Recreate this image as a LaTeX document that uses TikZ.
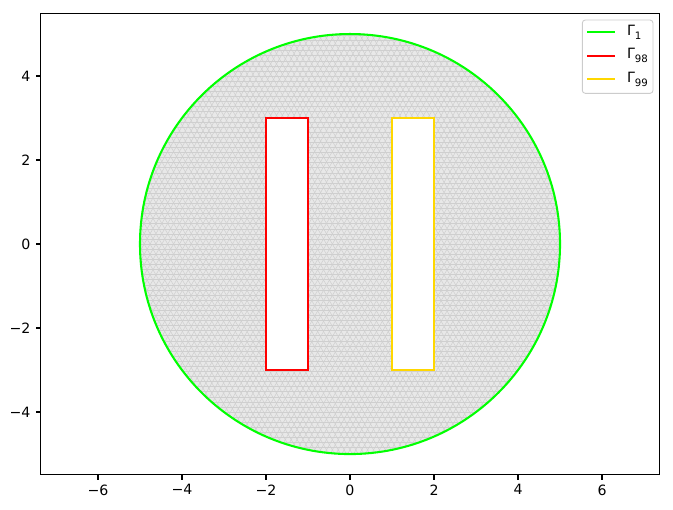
\documentclass[tikz,border=0pt]{standalone}
\usepackage{fontspec}
\setmainfont{DejaVu Sans}
\definecolor{lime}{HTML}{00FF00}
\definecolor{gold}{HTML}{FFD700}
\definecolor{legendedge}{HTML}{CCCCCC}
\newcommand{\sub}[1]{\raisebox{-0.3em}{\scalebox{0.72}{#1}}}
\tikzset{
  spine/.style={line width=0.75pt},
  tick/.style={line width=0.75pt},
  ticklabel/.style={font=\fontsize{9.6}{11}\selectfont, inner sep=0pt},
  bnd/.style={line width=1.4pt},
  meshline/.style={black!19, line width=0.35pt},
}

\begin{document}
\begin{tikzpicture}
  \useasboundingbox (-8.333,-6.310) rectangle (7.690,5.810);

  % mesh of the domain
  \begin{scope}[even odd rule]
    \clip (0,0) circle (5) (-2,-3) rectangle (-1,3) (1,-3) rectangle (2,3);
    \fill[black!9] (-5.1,-5.1) rectangle (5.1,5.1);
    \foreach \k in {-45,...,45} {
      \draw[meshline] (-5.1,\k*0.1212) -- (5.1,\k*0.1212);
    }
    \foreach \k in {-66,...,66} {
      \draw[meshline] (\k*0.14-3.2,-5.6) -- (\k*0.14+3.2,5.6);
      \draw[meshline] (\k*0.14+3.2,-5.6) -- (\k*0.14-3.2,5.6);
    }
  \end{scope}

  % boundaries
  \draw[bnd, lime] (0,0) circle (5);
  \draw[bnd, red] (-2,-3) rectangle (-1,3);
  \draw[bnd, gold] (1,-3) rectangle (2,3);

  % axes
  \draw[spine] (-7.369,-5.491) rectangle (7.376,5.488);
  \foreach \x in {-6,-4,...,6} {
    \pgfmathtruncatemacro\ax{abs(\x)}
    \draw[tick] (\x,-5.491) -- (\x,-5.607);
    \node[ticklabel, anchor=north] (xl\x) at (\x,-5.72) {\ifnum\x<0 −\fi\ax};
  }
  \foreach \y in {-4,-2,...,4} {
    \pgfmathtruncatemacro\ay{abs(\y)}
    \draw[tick] (-7.369,\y) -- (-7.485,\y);
    \node[ticklabel, anchor=east] (yl\y) at (-7.60,\y) {\ifnum\y<0 −\fi\ay};
  }

  % legend
  \draw[legendedge, fill=white, fill opacity=0.8, rounded corners=2pt, line width=0.6pt] (5.531,3.588) rectangle (7.214,5.333);
  \coordinate (g1a) at (5.650,5.040);  \coordinate (g1b) at (6.310,5.040);
  \coordinate (g2a) at (5.650,4.483);  \coordinate (g2b) at (6.310,4.483);
  \coordinate (g3a) at (5.650,3.921);  \coordinate (g3b) at (6.310,3.921);
  \draw[bnd, lime] (g1a) -- (g1b);
  \draw[bnd, red] (g2a) -- (g2b);
  \draw[bnd, gold] (g3a) -- (g3b);
  \node[ticklabel, anchor=west] (lab1) at (6.588,5.040) {Γ\sub{1}};
  \node[ticklabel, anchor=west] (lab98) at (6.588,4.483) {Γ\sub{98}};
  \node[ticklabel, anchor=west] (lab99) at (6.588,3.921) {Γ\sub{99}};
\end{tikzpicture}
\end{document}
